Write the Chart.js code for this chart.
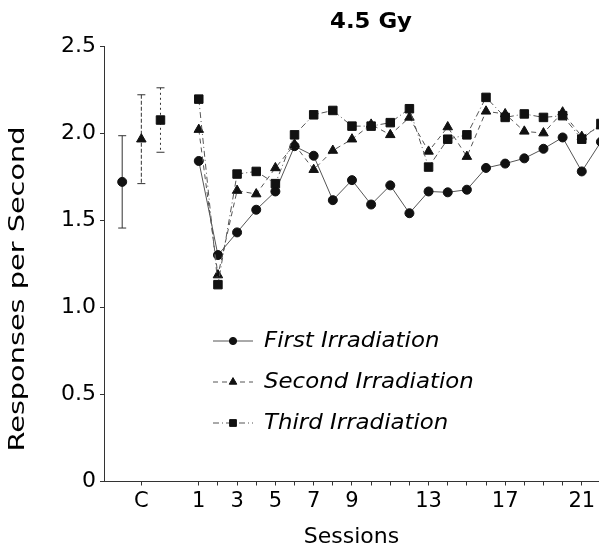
<!DOCTYPE html>
<html>
<head>
<meta charset="utf-8">
<title>4.5 Gy</title>
<script src="https://cdn.jsdelivr.net/npm/chart.js@4.4.1/dist/chart.umd.min.js"></script>
<style>
    html, body { margin: 0; padding: 0; background: #fff; }
</style>
</head>
<body>
<canvas id="chart" width="599" height="548"></canvas>
<script>
// sessions after irradiation
const sessions = [1, 2, 3, 4, 5, 6, 7, 8, 9, 10, 11, 12, 13, 14, 15, 16, 17, 18, 19, 20, 21, 22];
const firstIrradiation = [1.84, 1.30, 1.43, 1.56, 1.665, 1.925, 1.87, 1.615, 1.73, 1.59, 1.70, 1.54, 1.665, 1.66, 1.675, 1.80, 1.825, 1.855, 1.91, 1.975, 1.78, 1.95];
const secondIrradiation = [2.02, 1.185, 1.67, 1.65, 1.80, 1.935, 1.79, 1.90, 1.965, 2.05, 1.99, 2.09, 1.895, 2.035, 1.865, 2.125, 2.11, 2.01, 2.00, 2.12, 1.98, 2.04];
const thirdIrradiation = [2.195, 1.13, 1.765, 1.78, 1.71, 1.99, 2.105, 2.13, 2.04, 2.04, 2.06, 2.14, 1.805, 1.965, 1.99, 2.205, 2.09, 2.11, 2.09, 2.10, 1.965, 2.055];

// control (C) means with error bars, one per irradiation
const controlPositions = [-3, -2, -1];
const controlMeans = [1.72, 1.965, 2.075];
const controlErrors = [0.265, 0.255, 0.185];

const seriesLabels = ["First Irradiation", "Second Irradiation", "Third Irradiation"];
const xTickPositions = [-2, 1, 2, 3, 4, 5, 6, 7, 8, 9, 10, 11, 12, 13, 14, 15, 16, 17, 18, 19, 20, 21];
const xLabelPositions = [-2, 1, 3, 5, 7, 9, 13, 17, 21];
const xLabelTexts = ["C", "1", "3", "5", "7", "9", "13", "17", "21"];
const yTickValues = [0, 0.5, 1.0, 1.5, 2.0, 2.5];

const FONT = "'DejaVu Sans', sans-serif";
const lineColor = "#555";
const markColor = "#111";

const styles = [
    { pointStyle: "circle", radius: 4.5, dash: [] },
    { pointStyle: "triangle", radius: 5.5, dash: [5, 4] },
    { pointStyle: "rect", radius: 6, dash: [6, 3, 1, 3] },
];

function toPoints(xs, ys) {
    return xs.map((x, i) => ({ x: x, y: ys[i] }));
}

// text drawn a bit wider, like the typeset original
function wideText(ctx, text, x, y, width) {
    const w = ctx.measureText(text).width;
    ctx.save();
    ctx.translate(x, y);
    ctx.scale(width / w, 1);
    ctx.fillText(text, 0, 0);
    ctx.restore();
}

const seriesValues = [firstIrradiation, secondIrradiation, thirdIrradiation];

const datasets = seriesValues.map((vals, i) => ({
    label: seriesLabels[i],
    data: toPoints(sessions, vals),
    borderColor: lineColor,
    borderWidth: 1,
    borderDash: styles[i].dash,
    pointStyle: styles[i].pointStyle,
    pointRadius: styles[i].radius,
    pointBackgroundColor: markColor,
    pointBorderColor: markColor,
    pointBorderWidth: 1,
    tension: 0,
    clip: false,
    order: 3 - i,
}));

// control points, no line
controlPositions.forEach((x, i) => {
    datasets.push({
        label: "C " + seriesLabels[i],
        data: [{ x: x, y: controlMeans[i] }],
        showLine: false,
        pointStyle: styles[i].pointStyle,
        pointRadius: styles[i].radius,
        pointBackgroundColor: markColor,
        pointBorderColor: markColor,
        pointBorderWidth: 1,
        clip: false,
        isControl: true,
        controlIndex: i,
    });
});

const errorBars = {
    id: "errorBars",
    beforeDatasetsDraw(chart) {
        const ctx = chart.ctx;
        const yScale = chart.scales.y;
        ctx.save();
        chart.data.datasets.forEach((ds, di) => {
            if (!ds.isControl) return;
            const el = chart.getDatasetMeta(di).data[0];
            const i = ds.controlIndex;
            const top = yScale.getPixelForValue(controlMeans[i] + controlErrors[i]);
            const bottom = yScale.getPixelForValue(controlMeans[i] - controlErrors[i]);
            ctx.strokeStyle = "#333";
            ctx.lineWidth = 1;
            ctx.setLineDash(i === 0 ? [] : i === 1 ? [4, 2] : [2, 3]);
            ctx.beginPath();
            ctx.moveTo(el.x, top);
            ctx.lineTo(el.x, bottom);
            ctx.stroke();
            ctx.setLineDash([]);
            ctx.beginPath();
            ctx.moveTo(el.x - 4, top);
            ctx.lineTo(el.x + 4, top);
            ctx.moveTo(el.x - 4, bottom);
            ctx.lineTo(el.x + 4, bottom);
            ctx.stroke();
        });
        ctx.restore();
    },
};

// title, rotated y title and the legend inside the plot
const extras = {
    id: "extras",
    afterDraw(chart) {
        const ctx = chart.ctx;
        ctx.save();
        ctx.fillStyle = "#000";
        ctx.textBaseline = "middle";
        ctx.textAlign = "center";

        ctx.font = "bold 21px " + FONT;
        wideText(ctx, "4.5 Gy", 371, 23, 82);

        ctx.save();
        ctx.translate(18, 289);
        ctx.rotate(-Math.PI / 2);
        ctx.font = "22px " + FONT;
        wideText(ctx, "Responses per Second", 0, 0, 325);
        ctx.restore();

        const rows = [341, 382, 423];
        seriesLabels.forEach((label, i) => {
            const y = rows[i];
            ctx.strokeStyle = lineColor;
            ctx.lineWidth = 1;
            ctx.setLineDash(styles[i].dash);
            ctx.beginPath();
            ctx.moveTo(213, y);
            ctx.lineTo(253, y);
            ctx.stroke();
            ctx.setLineDash([]);
            ctx.fillStyle = markColor;
            ctx.strokeStyle = markColor;
            Chart.helpers.drawPoint(ctx, {
                pointStyle: styles[i].pointStyle,
                radius: styles[i].radius * 0.8,
                borderWidth: 1,
                rotation: 0,
            }, 233, y);
            ctx.fillStyle = "#000";
            ctx.textAlign = "left";
            ctx.font = "italic 22px " + FONT;
            const w = ctx.measureText(label).width;
            wideText(ctx, label, 264, y, w * 1.04);
        });
        ctx.restore();
    },
};

const ctx = document.getElementById("chart").getContext("2d");
new Chart(ctx, {
    type: "line",
    data: { datasets },
    plugins: [errorBars, extras],
    options: {
        responsive: false,
        animation: false,
        devicePixelRatio: 1,
        layout: { autoPadding: false, padding: { top: 46, right: 0, left: 0, bottom: 0 } },
        plugins: {
            legend: { display: false },
            tooltip: { enabled: false },
        },
        scales: {
            x: {
                type: "linear",
                min: -3.95,
                max: 21.9,
                afterFit: (s) => {
                    s.height = 66.5;
                    s.paddingLeft = 0;
                    s.paddingRight = 0;
                },
                afterBuildTicks: (s) => { s.ticks = xTickPositions.map((v) => ({ value: v })); },
                ticks: {
                    autoSkip: false,
                    maxRotation: 0,
                    padding: 3,
                    color: "#000",
                    font: { family: FONT, size: 21 },
                    callback: (v) => {
                        const k = xLabelPositions.indexOf(v);
                        return k >= 0 ? xLabelTexts[k] : "";
                    },
                },
                grid: { drawOnChartArea: false, tickLength: 4, color: "#333" },
                border: { color: "#333", width: 1 },
                title: {
                    display: true,
                    text: "Sessions",
                    color: "#000",
                    font: { family: FONT, size: 22, lineHeight: 1 },
                    padding: { top: 1, bottom: 0 },
                },
            },
            y: {
                min: 0,
                max: 2.5,
                afterFit: (s) => { s.width = 104; },
                afterBuildTicks: (s) => { s.ticks = yTickValues.map((v) => ({ value: v })); },
                ticks: {
                    padding: 4,
                    color: "#000",
                    font: { family: FONT, size: 22 },
                    callback: (v) => (v === 0 ? "0" : v.toFixed(1)),
                },
                grid: { drawOnChartArea: false, tickLength: 4, color: "#333" },
                border: { color: "#333", width: 1 },
            },
        },
    },
});
</script>
</body>
</html>
